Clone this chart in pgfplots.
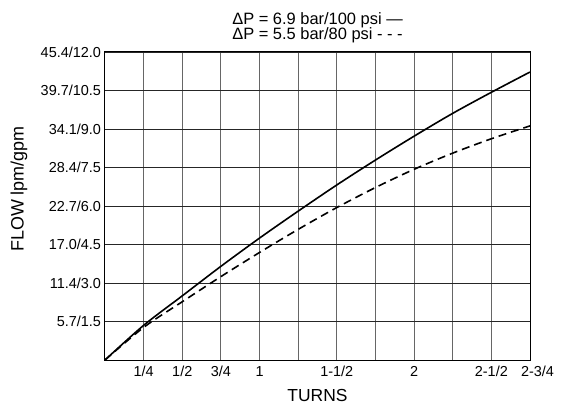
\documentclass[border=0pt]{standalone}
\usepackage{fontspec}
\setmainfont{Liberation Sans}
\usepackage{pgfplots}
\pgfplotsset{compat=1.18}

\begin{document}
\begin{tikzpicture}
\begin{axis}[
    name=main,
    scale only axis,
    width=425bp, height=308bp,
    xmin=0, xmax=2.75,
    ymin=0, ymax=12,
    xtick={0.25,0.5,0.75,1,1.5,2,2.5,2.75},
    xticklabels={1/4,1/2,3/4,1,1-1/2,2,2-1/2,\hspace*{15bp}2-3/4},
    minor xtick={1.25,1.75,2.25},
    ytick={1.5,3,4.5,6,7.5,9,10.5,12},
    yticklabels={5.7/1.5,11.4/3.0,17.0/4.5,22.7/6.0,28.4/7.5,34.1/9.0,39.7/10.5,45.4/12.0},
    major tick length=0pt, minor tick length=0pt,
    xmajorgrids, xminorgrids, ymajorgrids,
    x grid style={line width=0.9bp, color=black!60},
    minor x grid style={line width=0.9bp, color=black!60},
    y grid style={line width=0.9bp, color=black!85},
    axis line style={line width=1bp, black},
    ticklabel style={font=\fontsize{14.5}{16}\selectfont},
    xticklabel style={yshift=-3bp},
    yticklabel style={xshift=-0.5bp},
    xlabel={TURNS},
    xlabel style={font=\fontsize{17.5}{19}\selectfont, yshift=-5bp},
    clip=false,
]
\addplot[black, line width=1.6bp, smooth] coordinates {
    (0,0) (0.25,1.35) (0.5,2.5) (0.75,3.65) (1.0,4.75) (1.25,5.8)
    (1.5,6.82) (1.75,7.79) (2.0,8.72) (2.25,9.61) (2.5,10.43) (2.75,11.22)
};
\addplot[black, line width=1.6bp, smooth, dash pattern=on 8bp off 5bp] coordinates {
    (0,0) (0.25,1.27) (0.5,2.27) (0.75,3.25) (1.0,4.19) (1.25,5.09)
    (1.5,5.94) (1.75,6.72) (2.0,7.43) (2.25,8.06) (2.5,8.62) (2.75,9.12)
};
\node[rotate=90, font=\fontsize{18}{20}\selectfont] at ([xshift=-86bp]rel axis cs:0,0.555) {FLOW lpm/gpm};
\node[align=left, font=\fontsize{16.5}{17}\selectfont, anchor=south] at ([yshift=6bp]rel axis cs:0.5,1)
    {ΔP = 6.9 bar/100 psi —\\[-2bp]ΔP = 5.5 bar/80 psi - - -};
\end{axis}
\pgfresetboundingbox
\path (main.south west) ++(-105bp,-47bp) rectangle ++(566bp,407bp);
\end{tikzpicture}
\end{document}
